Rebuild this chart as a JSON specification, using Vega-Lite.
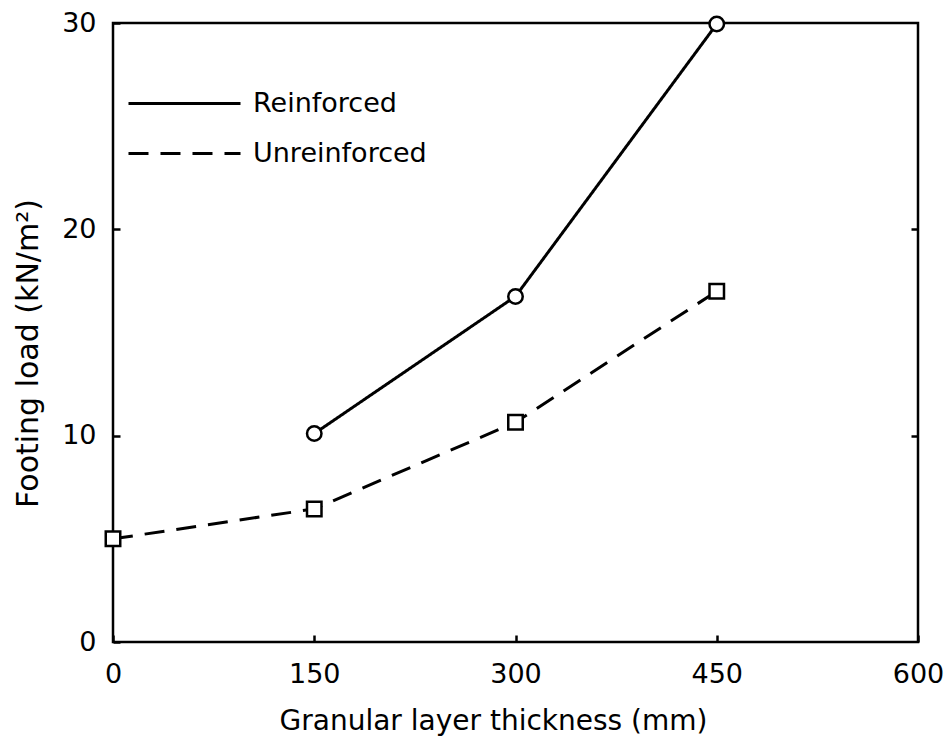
{
  "$schema": "https://vega.github.io/schema/vega-lite/v6.json",
  "width": 805,
  "height": 619,
  "autosize": {"type": "none"},
  "padding": {"left": 113, "top": 23, "right": 29, "bottom": 102},
  "background": "white",
  "config": {
    "font": "DejaVu Sans",
    "view": {"stroke": "black", "strokeWidth": 2.5},
    "axis": {"grid": false, "domain": false, "tickColor": "black", "tickWidth": 2.5, "tickSize": -7, "labelColor": "black", "titleColor": "black", "labelFont": "DejaVu Sans", "titleFont": "DejaVu Sans", "titleFontWeight": "normal", "labelFontSize": 27, "titleFontSize": 28}
  },
  "data": {
    "values": [
      {"series": "Reinforced", "x": 150, "y": 10.1},
      {"series": "Reinforced", "x": 300, "y": 16.75},
      {"series": "Reinforced", "x": 450, "y": 29.95},
      {"series": "Unreinforced", "x": 0, "y": 5.0},
      {"series": "Unreinforced", "x": 150, "y": 6.45},
      {"series": "Unreinforced", "x": 300, "y": 10.65},
      {"series": "Unreinforced", "x": 450, "y": 17.0}
    ]
  },
  "layer": [
    {
      "mark": {"type": "line", "color": "black", "strokeWidth": 3},
      "encoding": {
        "x": {"field": "x", "type": "quantitative", "scale": {"domain": [0, 600], "nice": false},
          "axis": {"values": [0, 150, 300, 450, 600], "labelPadding": 26, "title": "Granular layer thickness (mm)", "titlePadding": 20, "titleX": 380, "labelFlush": false}},
        "y": {"field": "y", "type": "quantitative", "scale": {"domain": [0, 30], "nice": false},
          "axis": {"orient": "left", "values": [0, 10, 20, 30], "labelPadding": 24, "title": "Footing load (kN/m²)", "titleFontSize": 30, "titlePadding": 18, "titleY": 330, "labelFlush": false}},
        "strokeDash": {"field": "series", "type": "nominal",
          "scale": {"domain": ["Reinforced", "Unreinforced"], "range": [[1, 0], [20, 12]]},
          "legend": {"title": null, "orient": "none", "legendX": 51, "legendY": 60, "symbolType": "M-3,0H3", "symbolSize": 1394, "symbolStrokeWidth": 3, "symbolStrokeColor": "black", "labelFontSize": 27, "labelColor": "black", "labelOffset": 48, "labelLimit": 400, "rowPadding": 16}}
      }
    },
    {
      "transform": [{"filter": "datum.series === 'Reinforced'"}],
      "mark": {"type": "point", "shape": "circle", "filled": true, "fill": "white", "stroke": "black", "strokeWidth": 2.5, "opacity": 1, "size": 210},
      "encoding": {
        "x": {"field": "x", "type": "quantitative"},
        "y": {"field": "y", "type": "quantitative",
          "axis": {"orient": "right", "values": [10, 20], "labels": false, "title": null}}
      }
    },
    {
      "transform": [{"filter": "datum.series === 'Unreinforced'"}],
      "mark": {"type": "point", "shape": "square", "filled": true, "fill": "white", "stroke": "black", "strokeWidth": 2.5, "opacity": 1, "size": 210},
      "encoding": {
        "x": {"field": "x", "type": "quantitative"},
        "y": {"field": "y", "type": "quantitative", "axis": null}
      }
    }
  ],
  "resolve": {"axis": {"y": "independent"}}
}
